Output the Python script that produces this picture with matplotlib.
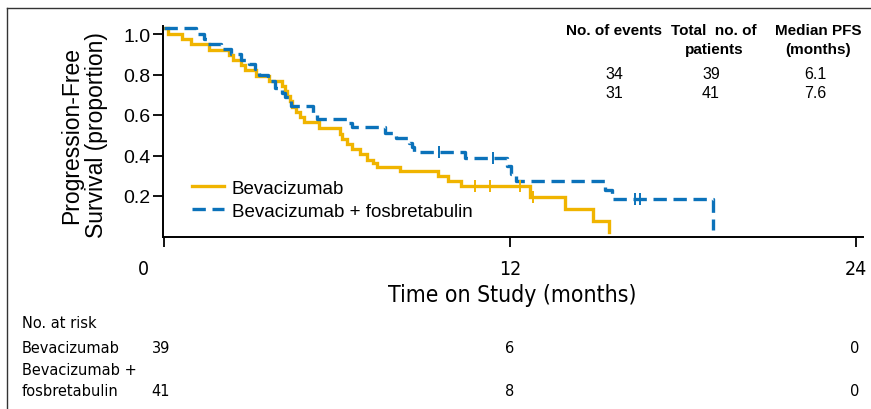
import matplotlib
matplotlib.use("Agg")
import matplotlib.pyplot as plt
import matplotlib.transforms as mtransforms
from matplotlib import font_manager as fm
from matplotlib.lines import Line2D

# Kaplan-Meier steps (months, proportion)
bev_t = [0, 0.14, 0.62, 0.95, 1.56, 2.25, 2.41, 2.67, 2.80, 3.20, 3.65, 4.11, 4.19,
         4.27, 4.36, 4.46, 4.57, 4.72, 4.87, 5.38, 6.10, 6.18, 6.34, 6.54, 6.80,
         7.03, 7.26, 7.40, 8.19, 9.51, 9.86, 10.32, 12.69, 13.90, 14.90, 15.44]
bev_s = [1.03, 1.0, 0.974, 0.949, 0.923, 0.897, 0.872, 0.846, 0.82, 0.795, 0.769,
         0.744, 0.718, 0.692, 0.667, 0.641, 0.615, 0.59, 0.564, 0.538, 0.508, 0.482,
         0.455, 0.43, 0.405, 0.38, 0.362, 0.342, 0.325, 0.30, 0.276, 0.25, 0.197,
         0.136, 0.078, 0.02]
bev_cens_t = [10.79, 11.30, 12.35, 12.79]
bev_cens_s = [0.25, 0.25, 0.25, 0.197]

fos_t = [0, 1.13, 1.38, 1.53, 1.99, 2.34, 2.67, 2.95, 3.15, 3.30, 3.60, 3.86, 4.11,
         4.21, 4.41, 5.17, 5.32, 6.39, 6.54, 7.66, 8.06, 8.51, 8.61, 8.68, 10.43,
         11.90, 12.05, 12.20, 15.30, 15.54, 19.05]
fos_s = [1.03, 1.0, 0.974, 0.949, 0.926, 0.90, 0.87, 0.85, 0.825, 0.80, 0.769,
         0.735, 0.707, 0.687, 0.646, 0.61, 0.58, 0.56, 0.539, 0.51, 0.485, 0.46,
         0.44, 0.415, 0.39, 0.35, 0.31, 0.276, 0.23, 0.185, 0.03]
fos_cens_t = [9.55, 11.43, 16.33, 16.51]
fos_cens_s = [0.415, 0.39, 0.185, 0.185]

groups = ["Bevacizumab", "Bevacizumab + fosbretabulin"]
table_head = [["No. of events"], ["Total  no. of", "patients"], ["Median PFS", "(months)"]]
table_rows = [["34", "39", "6.1"], ["31", "41", "7.6"]]
risk_times = [0, 12, 24]
risk_bev = [39, 6, 0]
risk_fos = [41, 8, 0]

yellow = "#F0B400"
blue = "#0B72BA"
W, H = 871, 410
arial = ["Liberation Sans", "DejaVu Sans"]

# look for a condensed face for the axis / at-risk text
cond = None
for f in fm.fontManager.ttflist:
    name = f.fname.lower()
    if ("condensed" in name or "narrow" in name) and "bold" not in name \
            and "oblique" not in name and "italic" not in name and "light" not in name:
        cond = f.fname
        break
if cond:
    def nfont(size):
        return fm.FontProperties(fname=cond, size=size)
    sz_ax, sz_tick, sz_risk = 16.5, 14, 11.7
else:
    def nfont(size):
        return fm.FontProperties(family=arial, size=size)
    sz_ax, sz_tick, sz_risk = 16, 14, 12


def fx(p):
    return p / W


def fy(p):
    return 1 - p / H


fig = plt.figure(figsize=(W / 100, H / 100), dpi=100)
ax = fig.add_axes([fx(163), fy(237.5), 700 / W, 210.6 / H])

ax.plot(bev_t, bev_s, drawstyle="steps-post", color=yellow, lw=2.4,
        solid_joinstyle="miter", label=groups[0])
ax.plot(fos_t, fos_s, drawstyle="steps-post", color=blue, lw=2.4,
        dashes=(4, 2), label=groups[1])
ax.plot(bev_cens_t, bev_cens_s, ls="none", marker="|", ms=8, mew=1.4, color=yellow)
ax.plot(fos_cens_t, fos_cens_s, ls="none", marker="|", ms=8, mew=1.4, color=blue)

ax.set_xlim(-0.03, 24.25)
ax.set_ylim(0, 1.04)
for s in ["top", "right"]:
    ax.spines[s].set_visible(False)
for s in ["left", "bottom"]:
    ax.spines[s].set_linewidth(1.4)
ax.set_yticks([0.2, 0.4, 0.6, 0.8, 1.0])
ax.set_yticklabels(["0.2", "0.4", "0.6", "0.8", "1.0"], family=arial, fontsize=14)
ax.set_xticks(risk_times)
ax.set_xticklabels([str(t) for t in risk_times], fontproperties=nfont(sz_tick))
ax.tick_params(axis="both", length=7, width=1.3, direction="out")
ax.tick_params(axis="x", pad=9)
ax.tick_params(axis="y", pad=2)
# the "0" label sits left of its tick in the original
lab0 = ax.get_xticklabels()[0]
lab0.set_transform(lab0.get_transform() + mtransforms.ScaledTranslation(-0.2, 0, fig.dpi_scale_trans))

leg = ax.legend(loc="lower left", bbox_to_anchor=(0.03, 0.045), frameon=False,
                prop={"family": arial, "size": 13.5}, handlelength=1.75,
                handletextpad=0.4, labelspacing=0.3, borderaxespad=0)

fig.text(fx(84), fy(135), "Progression-Free\nSurvival (proportion)", rotation=90,
         ha="center", va="center", family=arial, fontsize=16.5, linespacing=1.1)
fig.text(fx(512), fy(296), "Time on Study (months)", ha="center", va="center",
         fontproperties=nfont(sz_ax))

# event table, top right
head_x = [614, 714, 818]
val_x = [614, 711, 815]
for cx, head in zip(head_x, table_head):
    for k, line in enumerate(head):
        fig.text(fx(cx), fy(31 + 19 * k), line, ha="center", va="center",
                 family=arial, fontsize=11, weight="bold")
for r, row in enumerate(table_rows):
    for cx, val in zip(val_x, row):
        fig.text(fx(cx), fy(75 + 19 * r), val, ha="center", va="center",
                 family=arial, fontsize=11.5)

# numbers at risk
risk_x = [161, 510, 855]
fig.text(fx(22), fy(323), "No. at risk", ha="left", va="center", fontproperties=nfont(sz_risk))
fig.text(fx(22), fy(349), "Bevacizumab", ha="left", va="center", fontproperties=nfont(sz_risk))
fig.text(fx(22), fy(371), "Bevacizumab +", ha="left", va="center", fontproperties=nfont(sz_risk))
fig.text(fx(22), fy(392), "fosbretabulin", ha="left", va="center", fontproperties=nfont(sz_risk))
for px_, nb, nf in zip(risk_x, risk_bev, risk_fos):
    fig.text(fx(px_), fy(349), str(nb), ha="center", va="center", fontproperties=nfont(sz_risk))
    fig.text(fx(px_), fy(392), str(nf), ha="center", va="center", fontproperties=nfont(sz_risk))

# outer frame
fig.add_artist(Line2D([fx(7), fx(7)], [fy(9), 0], transform=fig.transFigure,
                      color="#333333", lw=1.0))
fig.add_artist(Line2D([fx(7), 1], [fy(9), fy(9)], transform=fig.transFigure,
                      color="#333333", lw=1.0))

fig.savefig("out.png", dpi=100)
